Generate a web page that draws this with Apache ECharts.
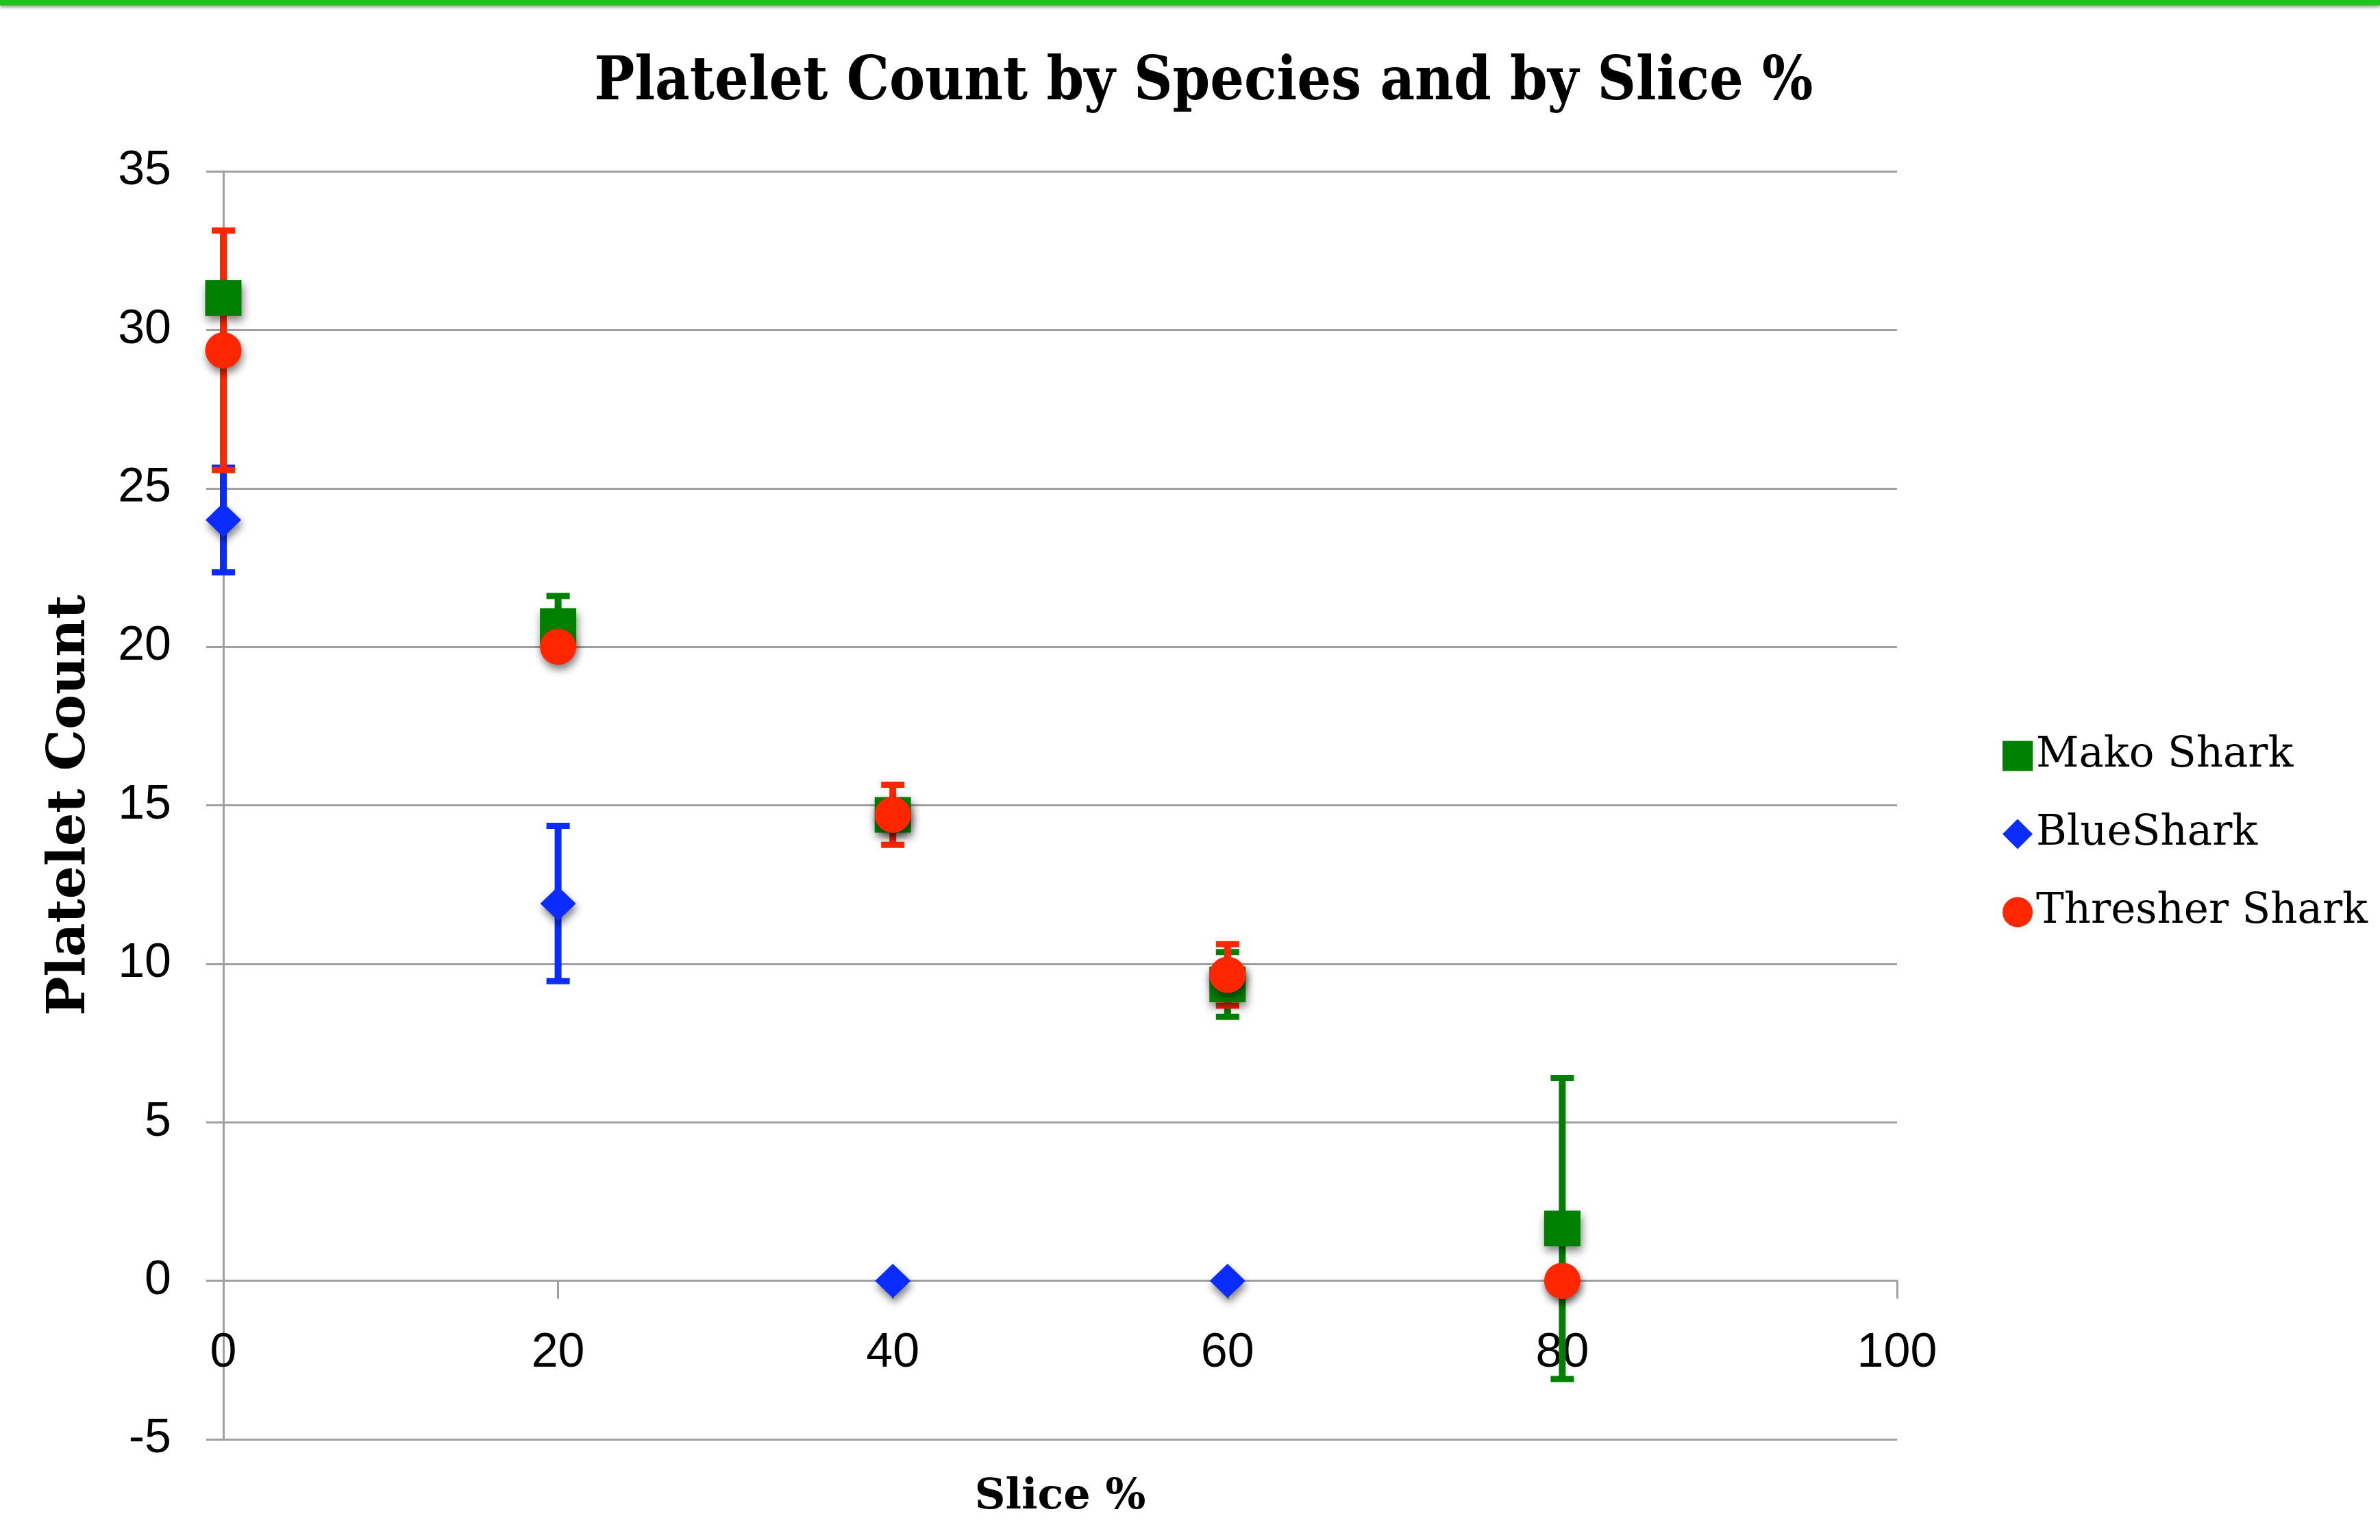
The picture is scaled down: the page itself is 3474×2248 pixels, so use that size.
<!DOCTYPE html>
<html>
<head>
<meta charset="utf-8">
<script src="https://cdn.jsdelivr.net/npm/echarts@6/dist/echarts.min.js"></script>
<style>
  html, body { margin: 0; padding: 0; background: #fff; }
  #topbar { position: absolute; left: 0; top: 0; width: 3474px; height: 8px; background: #1ec31e; box-shadow: 0 3px 4px rgba(0,0,0,0.35); z-index: 5; }
  #chart { position: absolute; left: 0; top: 0; width: 3474px; height: 2248px; }
</style>
</head>
<body>
<div id="topbar"></div>
<div id="chart"></div>
<script>
// ---- data ----
const slicePct = [0, 20, 40, 60, 80];
const seriesNames = ['Mako Shark', 'BlueShark', 'Thresher Shark'];
const makoMean = [31.0, 20.65, 14.7, 9.35, 1.65];
const makoErr = [0.3, 0.95, 0.4, 1.02, 4.75];
const blueMean = [24.0, 11.9, 0, 0, 0];
const blueErr = [1.65, 2.45, 0, 0, 0];
const threshMean = [29.35, 20.0, 14.7, 9.65, 0];
const threshErr = [3.78, 0.3, 0.95, 0.97, 0];
const yTicks = { min: -5, max: 35, interval: 5 };
const xTicks = { min: 0, max: 100, interval: 20 };

const colors = { mako: '#008000', blue: '#0a2cff', thresh: '#ff2600' };
const condFont = "'DejaVu Serif Condensed', 'DejaVu Serif', serif";
const serifFont = "'DejaVu Serif', serif";
const sansFont = "'Liberation Sans', Arial, sans-serif";

function pts(means) { return slicePct.map((x, i) => [x, means[i]]); }
function errPts(means, errs) { return slicePct.map((x, i) => [x, means[i], errs[i]]); }

function errRenderer(color) {
  return function (params, api) {
    const x = api.value(0), m = api.value(1), e = api.value(2);
    if (!e) return null;
    const top = api.coord([x, m + e]);
    const bot = api.coord([x, m - e]);
    const hw = 17;
    return {
      type: 'group',
      children: [
        { type: 'line', shape: { x1: top[0], y1: top[1], x2: bot[0], y2: bot[1] }, style: { stroke: color, lineWidth: 10 } },
        { type: 'line', shape: { x1: top[0] - hw, y1: top[1], x2: top[0] + hw, y2: top[1] }, style: { stroke: color, lineWidth: 9 } },
        { type: 'line', shape: { x1: bot[0] - hw, y1: bot[1], x2: bot[0] + hw, y2: bot[1] }, style: { stroke: color, lineWidth: 9 } }
      ]
    };
  };
}

const shadow = { opacity: 1, shadowBlur: 12, shadowColor: 'rgba(0,0,0,0.5)', shadowOffsetX: 2, shadowOffsetY: 7 };

const chart = echarts.init(document.getElementById('chart'));
chart.setOption({
  animation: false,
  backgroundColor: '#fff',
  title: {
    text: 'Platelet Count by Species and by Slice %',
    left: 1752, top: 74, textAlign: 'center',
    textStyle: { fontFamily: condFont, fontWeight: 'bold', fontSize: 87, color: '#000' }
  },
  legend: {
    orient: 'vertical', left: 2918, top: 1068, itemGap: 53,
    itemWidth: 44, itemHeight: 44,
    data: seriesNames,
    itemStyle: { opacity: 1, shadowBlur: 0, shadowColor: 'transparent', shadowOffsetX: 0, shadowOffsetY: 0 },
    textStyle: { fontFamily: serifFont, fontSize: 61, color: '#000', fontWeight: 'normal' }
  },
  grid: { left: 326, right: 705, top: 250, bottom: 147, containLabel: false, outerBoundsMode: 'none' },
  xAxis: {
    type: 'value', min: xTicks.min, max: xTicks.max, interval: xTicks.interval,
    name: 'Slice %', nameLocation: 'middle', nameGap: 54,
    nameTextStyle: { fontFamily: serifFont, fontWeight: 'bold', fontSize: 62, color: '#000' },
    axisLine: { onZero: true, lineStyle: { color: '#a0a0a0', width: 3 } },
    axisTick: { show: true, length: 26, lineStyle: { color: '#a0a0a0', width: 3 } },
    axisLabel: { margin: -160, fontFamily: sansFont, fontSize: 70, color: '#000' },
    splitLine: { show: false }
  },
  yAxis: {
    type: 'value', min: yTicks.min, max: yTicks.max, interval: yTicks.interval,
    name: 'Platelet Count', nameLocation: 'middle', nameGap: 185, nameRotate: 90,
    nameTextStyle: { fontFamily: serifFont, fontWeight: 'bold', fontSize: 76, color: '#000' },
    axisLine: { show: true, lineStyle: { color: '#a0a0a0', width: 3 } },
    axisTick: { show: true, length: 25, lineStyle: { color: '#a0a0a0', width: 3 } },
    axisLabel: { margin: 76, fontFamily: sansFont, fontSize: 70, color: '#000' },
    splitLine: { show: true, lineStyle: { color: '#a0a0a0', width: 3 } }
  },
  series: [
    { type: 'custom', name: 'Mako Shark err', z: 1, clip: false, renderItem: errRenderer(colors.mako), data: errPts(makoMean, makoErr), encode: { x: 0, y: 1 } },
    { type: 'custom', name: 'BlueShark err', z: 1, clip: false, renderItem: errRenderer(colors.blue), data: errPts(blueMean, blueErr), encode: { x: 0, y: 1 } },
    { type: 'custom', name: 'Thresher Shark err', z: 1, clip: false, renderItem: errRenderer(colors.thresh), data: errPts(threshMean, threshErr), encode: { x: 0, y: 1 } },
    { type: 'scatter', name: 'Mako Shark', z: 3, symbol: 'rect', symbolSize: [53, 52], data: pts(makoMean), itemStyle: Object.assign({ color: colors.mako }, shadow) },
    { type: 'scatter', name: 'BlueShark', z: 3, symbol: 'diamond', symbolSize: [52, 50], data: pts(blueMean), itemStyle: Object.assign({ color: colors.blue }, shadow) },
    { type: 'scatter', name: 'Thresher Shark', z: 3, symbol: 'circle', symbolSize: 53, data: pts(threshMean), itemStyle: Object.assign({ color: colors.thresh }, shadow) }
  ]
});
</script>
</body>
</html>
